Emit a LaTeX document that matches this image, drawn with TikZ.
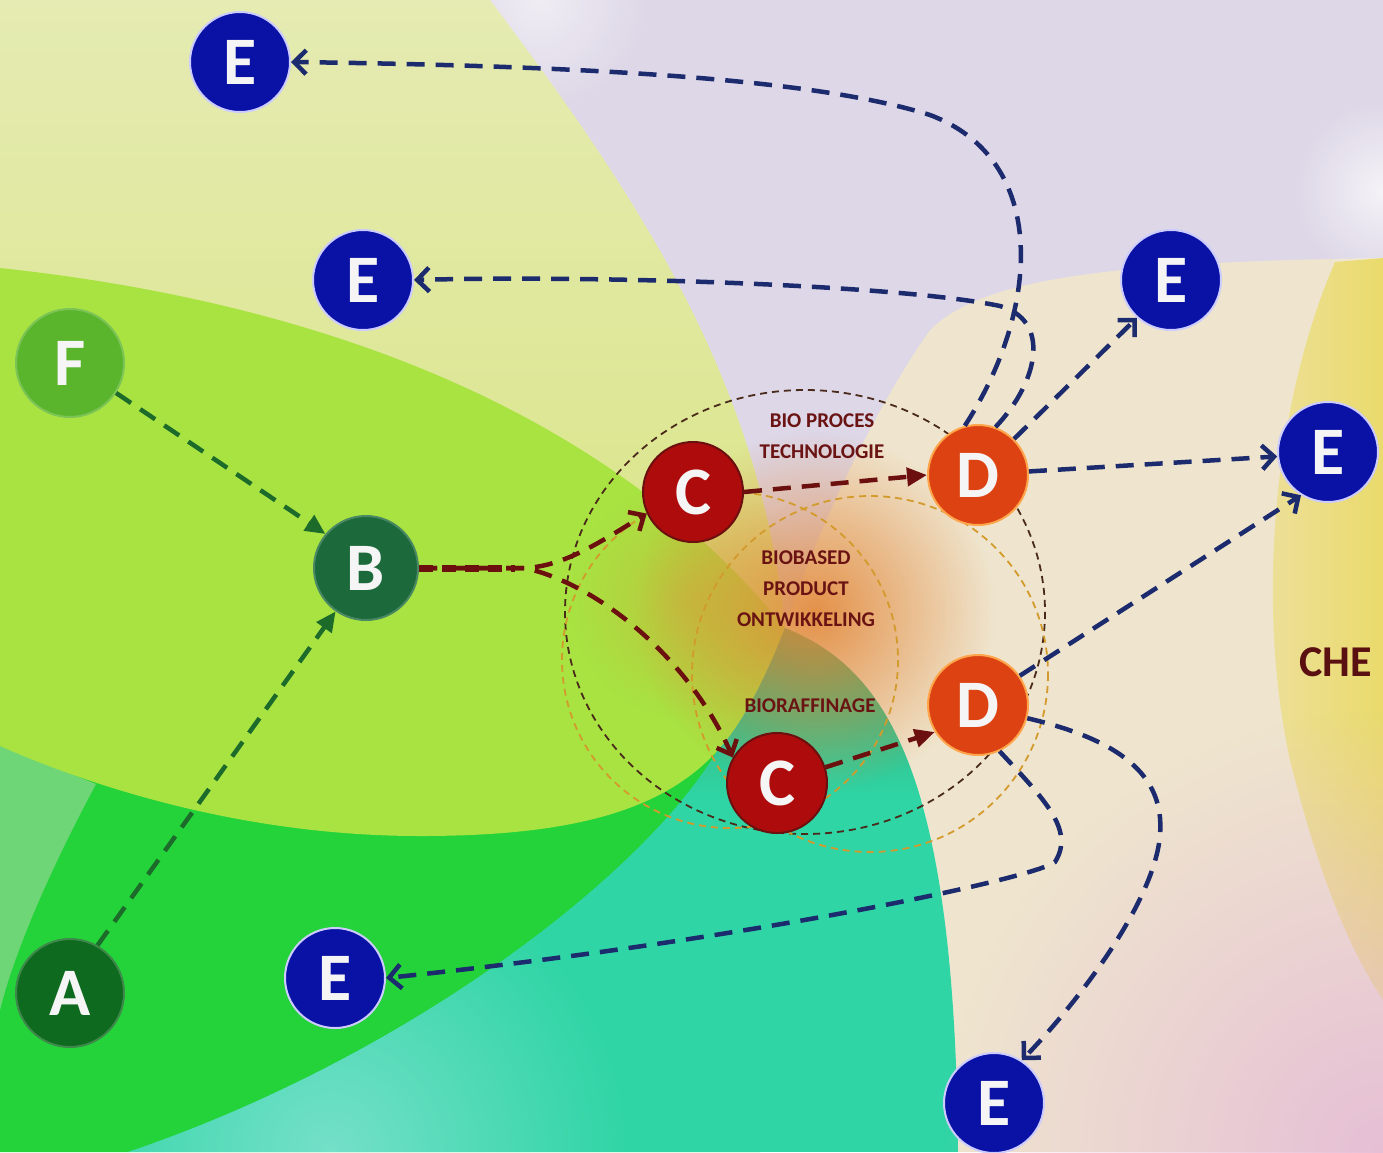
\documentclass[tikz,border=0pt]{standalone}
\usepackage{fontspec}
\setmainfont{Carlito}
\usetikzlibrary{arrows.meta,fadings}
\tikzfading[name=softglow, inner color=transparent!0, outer color=transparent!100]
\definecolor{bgbeige}{HTML}{EFE5CE}
\definecolor{lavenderc}{HTML}{DDD7E7}
\definecolor{paleyg}{HTML}{DAE587}
\definecolor{paleyg2}{HTML}{E5EBB2}
\definecolor{limec}{HTML}{A8E342}
\definecolor{brightgreen}{HTML}{24D33A}
\definecolor{lightgreenc}{HTML}{6FD677}
\definecolor{tealc}{HTML}{2FD5A5}
\definecolor{tealdark}{HTML}{3E9A5C}
\definecolor{teallight}{HTML}{86E3D2}
\definecolor{yellowr}{HTML}{EADB6C}
\definecolor{pinkr}{HTML}{E6BFD6}
\definecolor{glowc}{HTML}{E3883A}
\definecolor{glowy}{HTML}{C9B43A}
\definecolor{navyc}{HTML}{1C2A6E}
\definecolor{darkredc}{HTML}{6B0F0F}
\definecolor{dgreenc}{HTML}{1D6B2B}
\definecolor{eblue}{HTML}{0A12A6}
\definecolor{cred}{HTML}{AE0C0C}
\definecolor{dorange}{HTML}{DD4312}
\definecolor{fgreen}{HTML}{5BB52C}
\definecolor{bgreen}{HTML}{1C6A3C}
\definecolor{agreen}{HTML}{0E6A1E}
\definecolor{labelred}{HTML}{6A1313}
\definecolor{circdarkc}{HTML}{4A2A1A}
\definecolor{circorangec}{HTML}{D39A2C}
\newcommand\nodeletterfont{\fontsize{68}{70}\selectfont\bfseries}
\newcommand\lblfont{\fontsize{21}{23}\selectfont\bfseries}
\tikzset{
  basecirc/.style={circle, inner sep=0pt, minimum size=100pt, line width=2pt, text=white!96!black, font=\nodeletterfont},
  enode/.style={basecirc, fill=eblue, draw=white!80!blue},
  cnode/.style={basecirc, fill=cred, draw=darkredc},
  dnode/.style={basecirc, fill=dorange, draw=orange!70!white},
  fnode/.style={basecirc, fill=fgreen, draw=fgreen!80!white, minimum size=108pt},
  bnode/.style={basecirc, fill=bgreen, draw=bgreen!80!white, minimum size=104pt},
  anode/.style={basecirc, fill=agreen, draw=agreen!80!white, minimum size=108pt},
  lbl/.style={font=\lblfont, text=labelred, inner sep=0pt},
  navyline/.style={draw=navyc, line width=4.5pt, dash pattern=on 18pt off 11pt, -{Straight Barb[length=12pt,width=24pt]}},
  redline/.style={draw=darkredc, line width=4.5pt, dash pattern=on 18pt off 11pt, -{Straight Barb[length=12pt,width=22pt]}},
  redtri/.style={draw=darkredc, line width=4.5pt, dash pattern=on 18pt off 11pt, -{Triangle[length=20pt,width=18pt]}},
  greenline/.style={draw=dgreenc, line width=4.5pt, dash pattern=on 18pt off 11pt, -{Triangle[length=20pt,width=18pt]}},
  circdark/.style={draw=circdarkc, line width=1.8pt, dash pattern=on 7pt off 5pt},
  circorange/.style={draw=circorangec, line width=1.8pt, dash pattern=on 7pt off 5pt}
}
\begin{document}
\begin{tikzpicture}[x=1pt,y=-1pt]
\useasboundingbox (0,0) rectangle (1383,1152);
\clip (0,0) rectangle (1383,1152);
% ---------- background ----------
\fill[bgbeige] (0,0) rectangle (1383,1152);
\fill[lavenderc] (490,0) -- (1383,0) -- (1383,258) .. controls (1100,262) and (980,280) .. (930,330) .. controls (880,400) and (820,520) .. (785,628) .. controls (760,380) and (640,200) .. (490,0) -- cycle;
\fill[white, opacity=0.55, path fading=softglow] (540,0) circle (110);
\fill[white, opacity=0.7, path fading=softglow] (1383,190) circle (90);
\shade[top color=paleyg2, bottom color=paleyg] (0,0) -- (490,0) .. controls (640,200) and (760,380) .. (785,628) -- (0,628) -- cycle;
\fill[brightgreen] (0,700) -- (785,628) -- (760,1152) -- (0,1152) -- cycle;
\fill[lightgreenc] (0,746) -- (96,784) .. controls (50,870) and (15,950) .. (0,1010) -- cycle;
\fill[limec] (0,268) .. controls (300,300) and (600,400) .. (785,628) .. controls (765,680) and (740,728) .. (718,750) .. controls (660,815) and (560,836) .. (420,836) .. controls (250,836) and (100,790) .. (0,746) -- cycle;
\begin{scope}
\clip (785,628) .. controls (765,680) and (740,728) .. (718,750) .. controls (640,880) and (400,1060) .. (128,1152) -- (958,1152) .. controls (955,780) and (890,670) .. (785,628) -- cycle;
\fill[tealc] (0,600) rectangle (1000,1152);
\shade[top color=tealdark, bottom color=tealc] (680,600) rectangle (980,800);
\fill[teallight, opacity=0.8, path fading=softglow] (330,1152) circle (300);
\end{scope}
\shade[left color=yellowr!50!bgbeige, right color=yellowr] (1335,262) .. controls (1275,400) and (1255,600) .. (1290,760) .. controls (1320,880) and (1350,950) .. (1383,1000) -- (1383,258) -- cycle;
\fill[pinkr, path fading=softglow] (1383,1152) circle (440);
\fill[glowy, opacity=0.6, path fading=softglow] (690,600) circle (120);
\fill[glowc, opacity=0.9, path fading=softglow] (815,612) circle (180);
% ---------- dashed circles ----------
\draw[circdark] (805,612) ellipse [x radius=240, y radius=222];
\draw[circorange] (870,674) circle (178);
\draw[circorange] (730,660) circle (168);
% ---------- nodes ----------
\node[enode] (E1) at (240,62) {E};
\node[enode] (E2) at (363,280) {E};
\node[enode] (E3) at (1171,280) {E};
\node[enode] (E4) at (1328,452) {E};
\node[enode] (E5) at (335,978) {E};
\node[enode] (E6) at (994,1103) {E};
\node[fnode] (F) at (70,363) {F};
\node[bnode] (B) at (366,568) {B};
\node[anode] (A) at (70,993) {A};
\node[cnode] (C1) at (693,492) {C};
\node[cnode] (C2) at (777,783) {C};
\node[dnode] (D1) at (978,475) {D};
\node[dnode] (D2) at (978,705) {D};
% ---------- labels ----------
\node[lbl] (L1a) at (822,421) {BIO PROCES};
\node[lbl] (L1b) at (822,452) {TECHNOLOGIE};
\node[lbl] (L2a) at (806,558) {BIOBASED};
\node[lbl] (L2b) at (806,589) {PRODUCT};
\node[lbl] (L2c) at (806,620) {ONTWIKKELING};
\node[lbl] (L3) at (810,706) {BIORAFFINAGE};
\node[font=\fontsize{44}{46}\selectfont\bfseries, text=labelred!85!black, anchor=west, inner sep=0pt] (CHE) at (1299,662) {CHE};
% ---------- connectors ----------
\draw[greenline] (F.-33) -- (B.140);
\draw[greenline] (A.60) -- (B.235);
\draw[draw=darkredc, line width=7pt, dash pattern=on 14pt off 9pt] (B.east) -- (515,568);
\draw[redline] (B.east) -- (525,568) .. controls (565,566) and (600,542) .. (C1.205);
\draw[redline] (B.east) -- (525,568) .. controls (600,585) and (690,660) .. (C2.150);
\draw[redtri] (C1.east) -- (D1.west);
\draw[redtri] (C2.18) -- (D2.212);
\draw[navyline] (D1.105) .. controls (1040,310) and (1050,160) .. (930,115) .. controls (820,80) and (600,66) .. (E1.east);
\draw[navyline] (D1.70) .. controls (1040,380) and (1050,320) .. (1000,306) .. controls (900,285) and (600,275) .. (E2.east);
\draw[navyline] (D1.45) -- (E3.228);
\draw[navyline] (D1.4) -- (E4.185);
\draw[navyline] (D2.35) -- (E4.238);
\draw[navyline] (D2.295) .. controls (1045,800) and (1075,830) .. (1055,862) .. controls (1035,878) and (750,940) .. (E5.east);
\draw[navyline] (D2.345) .. controls (1120,740) and (1165,775) .. (1160,835) .. controls (1155,900) and (1080,1000) .. (E6.57);
\end{tikzpicture}
\end{document}
